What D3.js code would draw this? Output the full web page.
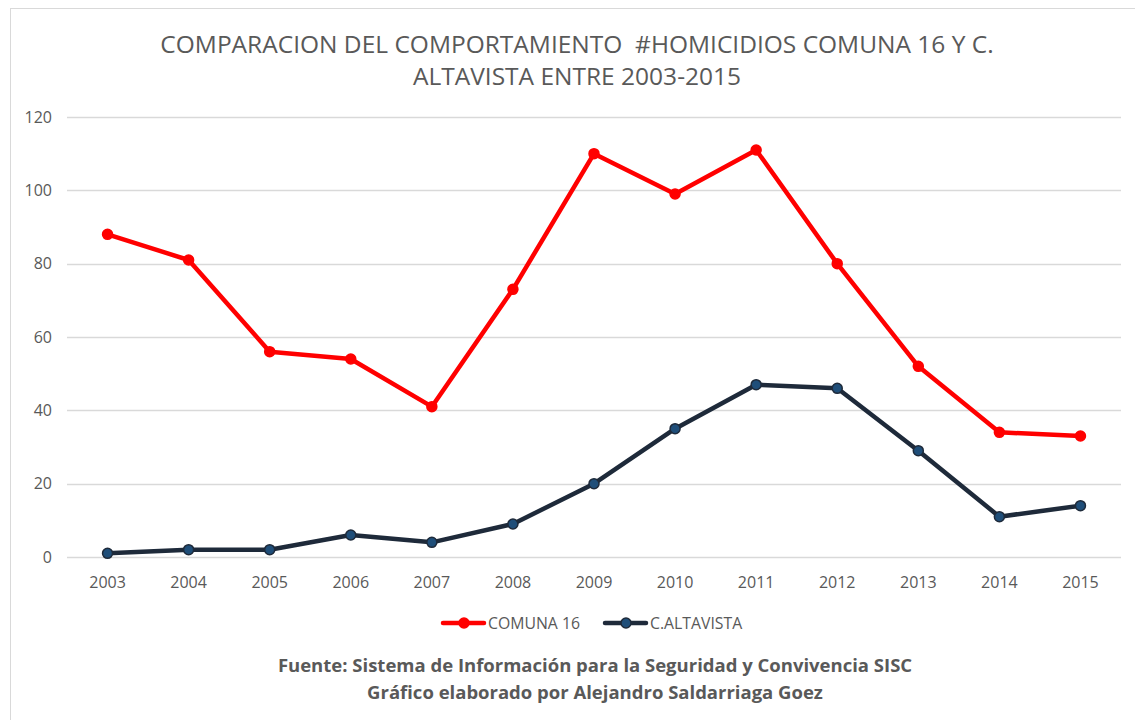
<!DOCTYPE html>
<html>
<head>
<meta charset="utf-8">
<script src="https://cdn.jsdelivr.net/npm/d3@7"></script>
<style>
  body { margin: 0; background: #fff; }
  svg { font-family: "Open Sans", Lato, sans-serif; }
</style>
</head>
<body>
<script>
const years = ["2003","2004","2005","2006","2007","2008","2009","2010","2011","2012","2013","2014","2015"];
const comuna16 = [88, 81, 56, 54, 41, 73, 110, 99, 111, 80, 52, 34, 33];
const altavista = [1, 2, 2, 6, 4, 9, 20, 35, 47, 46, 29, 11, 14];
const yTicks = [0, 20, 40, 60, 80, 100, 120];
const titleLines = ["COMPARACION DEL COMPORTAMIENTO  #HOMICIDIOS COMUNA 16 Y C.", "ALTAVISTA ENTRE 2003-2015"];
const footerLines = ["Fuente: Sistema de Información para la Seguridad y Convivencia SISC", "Gráfico elaborado por Alejandro Saldarriaga Goez"];

const width = 1135, height = 720;
const svg = d3.select("body").append("svg")
  .attr("width", width)
  .attr("height", height);

svg.append("rect")
  .attr("x", 10.5).attr("y", 8.5)
  .attr("width", width).attr("height", height)
  .attr("fill", "#fff")
  .attr("stroke", "#d9d9d9");

const x = d3.scaleBand().domain(years).range([67, 1121]);
const y = d3.scaleLinear().domain([0, 120]).range([557, 117]);

// gridlines
svg.append("g")
  .selectAll("line")
  .data(yTicks)
  .join("line")
  .attr("x1", 67).attr("x2", 1121)
  .attr("y1", d => Math.round(y(d)) + 0.5)
  .attr("y2", d => Math.round(y(d)) + 0.5)
  .attr("stroke", "#d9d9d9")
  .attr("stroke-width", 1.3);

// y labels
svg.append("g")
  .selectAll("text")
  .data(yTicks)
  .join("text")
  .attr("x", 52)
  .attr("y", d => y(d) + 5.5)
  .attr("text-anchor", "end")
  .attr("font-size", 16)
  .attr("fill", "#595959")
  .text(d => d);

// x labels
svg.append("g")
  .selectAll("text")
  .data(years)
  .join("text")
  .attr("x", d => x(d) + x.bandwidth() / 2)
  .attr("y", 588)
  .attr("text-anchor", "middle")
  .attr("font-size", 16)
  .attr("fill", "#595959")
  .text(d => d);

const series = [
  { name: "COMUNA 16", values: comuna16, line: "#ff0000", fill: "#ff0000", stroke: "#ff0000" },
  { name: "C.ALTAVISTA", values: altavista, line: "#1e2a3a", fill: "#1f4e79", stroke: "#1e2a3a" }
];

const line = d3.line()
  .x((d, i) => x(years[i]) + x.bandwidth() / 2)
  .y(d => y(d));

series.forEach(s => {
  svg.append("path")
    .datum(s.values)
    .attr("fill", "none")
    .attr("stroke", s.line)
    .attr("stroke-width", 4.5)
    .attr("stroke-linejoin", "round")
    .attr("d", line);
  svg.append("g")
    .selectAll("circle")
    .data(s.values)
    .join("circle")
    .attr("cx", (d, i) => x(years[i]) + x.bandwidth() / 2)
    .attr("cy", d => y(d))
    .attr("r", 5)
    .attr("fill", s.fill)
    .attr("stroke", s.stroke)
    .attr("stroke-width", 1.5);
});

// legend
const legendX = [443, 605];
series.forEach((s, i) => {
  const g = svg.append("g").attr("transform", `translate(${legendX[i]},623)`);
  g.append("line").attr("x1", 0).attr("x2", 41)
    .attr("stroke", s.line).attr("stroke-width", 4.5).attr("stroke-linecap", "round");
  g.append("circle").attr("cx", 21).attr("r", 5)
    .attr("fill", s.fill).attr("stroke", s.stroke).attr("stroke-width", 1.5);
  g.append("text").attr("x", 45).attr("y", 5.5)
    .attr("font-size", 15.8).attr("fill", "#595959").text(s.name);
});

// title
svg.append("g")
  .selectAll("text")
  .data(titleLines)
  .join("text")
  .attr("x", 577)
  .attr("y", (d, i) => 53 + i * 32)
  .attr("text-anchor", "middle")
  .attr("font-size", 24.5)
  .attr("fill", "#595959")
  .style("white-space", "pre")
  .text(d => d);

// footer
svg.append("g")
  .selectAll("text")
  .data(footerLines)
  .join("text")
  .attr("x", 595)
  .attr("y", (d, i) => 672 + i * 27)
  .attr("text-anchor", "middle")
  .attr("font-size", 18.5)
  .attr("font-weight", "bold")
  .attr("fill", "#595959")
  .text(d => d);
</script>
</body>
</html>
